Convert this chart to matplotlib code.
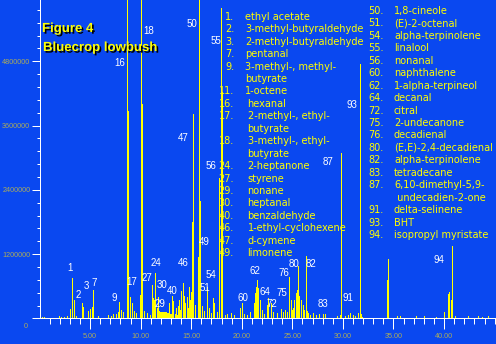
import matplotlib
matplotlib.use("Agg")
import matplotlib.pyplot as plt
from matplotlib import patheffects
from matplotlib.ticker import FixedLocator, NullFormatter

# retention time (min) and detector response of each stick in the trace
rt = [0.26, 0.40, 1.94, 2.10, 2.45, 2.70, 3.00, 3.25, 3.39, 3.60,
      4.18, 4.34, 4.83, 4.97, 5.23, 5.33, 5.79, 6.81, 7.05, 7.28,
      7.60, 7.75, 7.90, 8.07, 8.30, 8.63, 8.73, 8.99, 9.13, 9.35,
      9.55, 9.95, 10.02, 10.08, 10.14, 10.37, 10.64, 10.90, 11.10, 11.23,
      11.33, 11.46, 11.58, 11.70, 11.80, 11.90, 12.00, 12.10, 12.20, 12.30,
      12.40, 12.50, 12.60, 12.70, 12.81, 12.90, 13.00, 13.11, 13.24, 13.40,
      13.50, 13.60, 13.70, 13.83, 13.93, 14.03, 14.17, 14.30, 14.43, 14.56,
      14.66, 14.76, 14.89, 15.02, 15.12, 15.22, 15.38, 15.65, 15.80, 15.90,
      16.08, 16.27, 16.52, 16.72, 16.95, 17.14, 17.29, 17.56, 17.76, 17.98,
      18.06, 18.35, 18.55, 18.94, 19.25, 19.86, 20.03, 20.23, 20.50, 20.82,
      21.19, 21.35, 21.41, 21.51, 21.64, 21.76, 22.00, 22.20, 22.45, 22.57,
      22.90, 23.10, 23.49, 23.89, 24.09, 24.28, 24.43, 24.65, 24.71, 24.83,
      24.98, 25.05, 25.20, 25.37, 25.50, 25.60, 25.70, 25.87, 26.04, 26.20,
      26.30, 26.40, 26.56, 26.76, 27.05, 27.30, 27.67, 28.01, 28.24, 29.40,
      29.75, 29.85, 30.20, 30.48, 30.74, 31.00, 31.20, 31.50, 31.67, 31.80,
      31.93, 34.40, 34.47, 35.36, 35.60, 37.20, 38.06, 39.21, 40.03, 40.43,
      40.53, 40.70, 40.77, 40.82, 41.10, 42.35, 43.34, 43.80, 44.33]
response = [30e3, 20e3, 40e3, 30e3, 35e3, 40e3, 179e3, 752e3, 347e3, 40e3,
            297e3, 216e3, 142e3, 179e3, 216e3, 534e3, 49e3, 67e3, 49e3, 86e3,
            86e3, 120e3, 304e3, 160e3, 129e3, 7.0e6, 3.87e6, 409e3, 291e3, 142e3,
            105e3, 440e3, 7.0e6, 5.33e6, 4.0e6, 142e3, 100e3, 60e3, 627e3, 390e3,
            347e3, 845e3, 200e3, 400e3, 140e3, 120e3, 125e3, 125e3, 130e3, 125e3,
            120e3, 115e3, 110e3, 100e3, 291e3, 90e3, 85e3, 429e3, 334e3, 75e3,
            198e3, 70e3, 235e3, 347e3, 150e3, 521e3, 659e3, 422e3, 291e3, 409e3,
            200e3, 590e3, 347e3, 496e3, 1.81e6, 3.82e6, 254e3, 1.14e6, 7.0e6, 2.2e6,
            235e3, 142e3, 590e3, 198e3, 100e3, 379e3, 291e3, 123e3, 2.62e6, 5.80e6,
            4.22e6, 60e3, 80e3, 105e3, 60e3, 198e3, 285e3, 86e3, 70e3, 123e3,
            291e3, 478e3, 595e3, 720e3, 571e3, 347e3, 160e3, 90e3, 254e3, 379e3,
            291e3, 123e3, 105e3, 174e3, 123e3, 160e3, 120e3, 595e3, 782e3, 347e3,
            160e3, 198e3, 347e3, 472e3, 530e3, 982e3, 420e3, 347e3, 254e3, 160e3,
            1.17e6, 140e3, 100e3, 70e3, 105e3, 60e3, 86e3, 86e3, 86e3, 50e3,
            60e3, 3.09e6, 40e3, 67e3, 110e3, 67e3, 40e3, 105e3, 4.75e6, 86e3,
            35e3, 720e3, 1.11e6, 49e3, 40e3, 40e3, 49e3, 30e3, 129e3, 459e3,
            502e3, 347e3, 1.36e6, 614e3, 40e3, 49e3, 49e3, 30e3, 49e3]

x_major = [5, 10, 15, 20, 25, 30, 35, 40]
x_minor = list(range(1, 46))
x_labels = ["5.00", "10.00", "15.00", "20.00", "25.00", "30.00", "35.00", "40.00"]
y_major = [1200000, 2400000, 3600000, 4800000]
y_minor = [240000 * k for k in range(1, 25)]
y_labels = ["1200000", "2400000", "3600000", "4800000"]

# peak number labels: (text, x px, y px)
peak_labels = [("1", 70, 268), ("2", 78, 295), ("3", 86, 286), ("7", 94, 283),
               ("9", 114, 298), ("16", 120, 63), ("17", 132, 282), ("18", 149, 31),
               ("27", 147, 278), ("24", 156, 263), ("30", 162, 285), ("29", 160, 304),
               ("40", 172, 291), ("46", 183, 263), ("47", 183, 138), ("50", 192, 24),
               ("49", 204, 242), ("54", 211, 275), ("51", 205, 288), ("55", 216, 41),
               ("56", 211, 166), ("60", 243, 298), ("62", 255, 271), ("64", 265, 292),
               ("72", 272, 304), ("75", 282, 293), ("76", 284, 273), ("80", 294, 264),
               ("82", 311, 264), ("83", 323, 304), ("87", 328, 162), ("91", 348, 298),
               ("93", 352, 105), ("94", 439, 260)]

legend_left = [("1.", "ethyl acetate"), ("2.", "3-methyl-butyraldehyde"),
               ("3.", "2-methyl-butyraldehyde"), ("7.", "pentanal"),
               ("9.", "3-methyl-, methyl-"), ("", "butyrate"), ("11.", "1-octene"),
               ("16.", "hexanal"), ("17.", "2-methyl-, ethyl-"), ("", "butyrate"),
               ("18.", "3-methyl-, ethyl-"), ("", "butyrate"), ("24.", "2-heptanone"),
               ("27.", "styrene"), ("29.", "nonane"), ("30.", "heptanal"),
               ("40.", "benzaldehyde"), ("46.", "1-ethyl-cyclohexene"),
               ("47.", "d-cymene"), ("49.", "limonene")]
legend_right = [("50.", "1,8-cineole"), ("51.", "(E)-2-octenal"),
                ("54.", "alpha-terpinolene"), ("55.", "linalool"), ("56.", "nonanal"),
                ("60.", "naphthalene"), ("62.", "1-alpha-terpineol"), ("64.", "decanal"),
                ("72.", "citral"), ("75.", "2-undecanone"), ("76.", "decadienal"),
                ("80.", "(E,E)-2,4-decadienal"), ("82.", "alpha-terpinolene"),
                ("83.", "tetradecane"), ("87.", "6,10-dimethyl-5,9-"),
                ("", " undecadien-2-one"), ("91.", "delta-selinene"), ("93.", "BHT"),
                ("94.", "isopropyl myristate")]

W, H = 496, 344
BLUE = "#0A48F0"
YELLOW = "#FFFF00"
OLIVE = "#ABAB5A"


def px(x, y):
    return x / W, 1 - y / H


fig = plt.figure(figsize=(W / 100, H / 100), dpi=100, facecolor=BLUE)
ax = fig.add_axes([0, 0, 1, 1], facecolor=BLUE)

ax.vlines(rt, 0, response, colors=YELLOW, linewidth=0.6, antialiased=False)

# 10.114 px per minute, 18662 counts per px; zero falls on pixel (39.5, 318.5)
ax.set_xlim(-3.906, 45.135)
ax.set_ylim(-475900, 5944000)

for side in ["top", "right"]:
    ax.spines[side].set_visible(False)
ax.spines["left"].set_position(("data", 0))
ax.spines["bottom"].set_position(("data", 0))
ax.spines["left"].set_bounds(0, 5944000)
ax.spines["bottom"].set_bounds(0, 45.135)
for side in ["left", "bottom"]:
    ax.spines[side].set_color("white")
    ax.spines[side].set_linewidth(0.72)
    ax.spines[side].set_antialiased(False)
    ax.spines[side].set_zorder(3)

ax.xaxis.set_major_locator(FixedLocator(x_major))
ax.set_xticklabels(x_labels)
ax.xaxis.set_minor_locator(FixedLocator(x_minor))
ax.yaxis.set_major_locator(FixedLocator([0] + y_major))
ax.set_yticklabels([""] + y_labels)
ax.yaxis.set_minor_locator(FixedLocator(y_minor))
ax.xaxis.set_minor_formatter(NullFormatter())
ax.yaxis.set_minor_formatter(NullFormatter())

ax.tick_params(axis="x", which="major", direction="out", length=8, width=0.72,
               color="white", labelcolor=OLIVE, labelsize=5.2, pad=2.5)
ax.tick_params(axis="x", which="minor", direction="out", length=4.3, width=0.72,
               color="white")
ax.tick_params(axis="y", which="major", direction="out", length=5.8, width=0.72,
               color="white", labelcolor=OLIVE, labelsize=5.2, pad=0.8)
ax.tick_params(axis="y", which="minor", direction="out", length=2.2, width=0.72,
               color="white")
for axis in [ax.xaxis, ax.yaxis]:
    for tick in axis.get_major_ticks() + axis.get_minor_ticks():
        tick.tick1line.set_antialiased(False)
for lab in ax.get_xticklabels() + ax.get_yticklabels():
    lab.set_family("Liberation Sans")

fig.text(*px(26, 326), "0", color=OLIVE, fontsize=5.2, family="Liberation Sans",
         ha="center", va="center")

shadow = [patheffects.withSimplePatchShadow(offset=(1.2, -1.2),
                                            shadow_rgbFace="black", alpha=1)]
fig.text(*px(42, 29), "Figure 4", color=YELLOW, fontsize=9.5, weight="bold",
         family="Liberation Sans", ha="left", va="center", path_effects=shadow)
fig.text(*px(43, 48), "Bluecrop lowbush", color=YELLOW, fontsize=9.5, weight="bold",
         family="Liberation Sans", ha="left", va="center", path_effects=shadow)

for lab, x, y in peak_labels:
    fig.text(*px(x, y), lab, color="white", fontsize=7, family="Liberation Sans",
             ha="center", va="center")

for i, (num, name) in enumerate(legend_left):
    y = 16.7 + i * 12.45
    if num:
        fig.text(*px(234, y), num, color=YELLOW, fontsize=7, ha="right", va="center")
    fig.text(*px(245 if i < 7 else 247.5, y), name, color=YELLOW, fontsize=7,
             ha="left", va="center")

for i, (num, name) in enumerate(legend_right):
    y = 10.7 + i * 12.48
    if num:
        fig.text(*px(383.5, y), num, color=YELLOW, fontsize=7, ha="right", va="center")
    fig.text(*px(394, y), name, color=YELLOW, fontsize=7, ha="left", va="center")

fig.savefig("out.png", dpi=100, facecolor=BLUE)
